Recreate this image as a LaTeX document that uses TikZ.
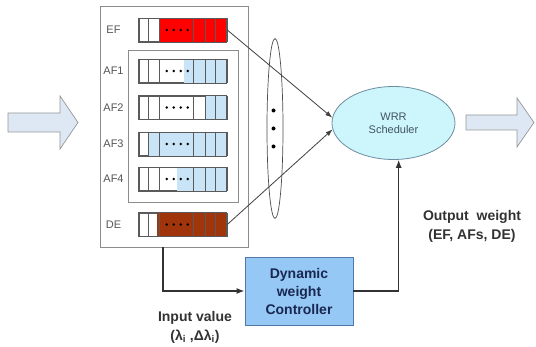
\documentclass[tikz,border=0pt]{standalone}
\usepackage{fontspec}
\setmainfont{Liberation Sans}
\usetikzlibrary{calc}
\usetikzlibrary{arrows.meta}
\usetikzlibrary{shapes.geometric}
\definecolor{framegray}{RGB}{140,140,140}
\definecolor{cellgray}{RGB}{90,90,90}
\definecolor{labgray}{RGB}{85,85,85}
\definecolor{notegray}{RGB}{50,50,50}
\definecolor{efred}{RGB}{255,0,0}
\definecolor{debrown}{RGB}{160,52,10}
\definecolor{afblue}{RGB}{200,228,246}
\definecolor{schedfill}{RGB}{205,246,252}
\definecolor{scheddraw}{RGB}{110,140,160}
\definecolor{ctrlfill}{RGB}{150,200,245}
\definecolor{ctrldraw}{RGB}{80,120,170}
\definecolor{ctrltext}{RGB}{25,40,80}
\definecolor{arrowfill}{RGB}{222,232,245}
\definecolor{arrowgray}{RGB}{150,150,150}
\tikzset{frame/.style={draw=framegray,fill=white,line width=0.7pt,inner sep=0pt},
         qbox/.style={draw=cellgray,minimum width=88pt,minimum height=23pt,inner sep=0pt,line width=0.6pt},
         cell/.style={draw=cellgray,line width=0.5pt},
         qlab/.style={text=labgray,font=\fontsize{11}{12}\selectfont},
         link/.style={line width=0.8pt,draw=black!75,-{Latex[length=7pt,width=5pt]}},
         flow/.style={line width=1.3pt,draw=notegray,-{Latex[length=8pt,width=6pt]}},
         bigarrow/.style={draw=arrowgray,fill=arrowfill,line width=0.7pt,line join=miter},
         sched/.style={ellipse,draw=scheddraw,fill=schedfill,line width=0.8pt,minimum width=123pt,
                       minimum height=73pt,align=center,text=scheddraw!60!black,
                       font=\fontsize{11}{13}\selectfont},
         ctrl/.style={draw=ctrldraw,fill=ctrlfill,line width=0.8pt,minimum width=108pt,minimum height=68pt,
                      align=center,text=ctrltext,font=\bfseries\fontsize{14}{18}\selectfont},
         note/.style={align=center,text=notegray,font=\bfseries\fontsize{14}{19}\selectfont}
         }
\newcommand{\qcells}[1]{%
  \foreach \xa/\xb in {0/10,10/21,21/55,55/67,67/77,77/88}
    \draw[cell] ($(#1.north west)+(\xa,0)$) rectangle ($(#1.south west)+(\xb,0)$);
  \foreach \d in {0,1,2,3}
    \fill ($(#1.west)+(28+7*\d,0)$) circle (1.4pt);
}
\begin{document}
\begin{tikzpicture}[x=1pt,y=-1pt]
  \useasboundingbox (0,0) rectangle (536,347);

  % in and out arrows
  \draw[bigarrow] (8,113) -- (60,113) -- (60,96) -- (78,122.5) -- (60,149) -- (60,132) -- (8,132) -- cycle;
  \draw[bigarrow] (466,115) -- (517,115) -- (517,98) -- (534,122.5) -- (517,147) -- (517,130) -- (466,130) -- cycle;

  % classifier boxes
  \node[frame, minimum width=148pt, minimum height=241pt] (classbox) at (174,126.5) {};
  \node[frame, minimum width=110pt, minimum height=152pt] (afbox) at (183,126) {};

  % queues
  \foreach \q/\y in {EF/30,AF1/71,AF2/107.5,AF3/144,AF4/179,DE/224.5}
  {
    \node[qbox] (q\q) at (183,\y) {};
    \node[qlab] (l\q) at (113.5,\y) {\q};
  }
  \fill[efred] ($(qEF.north west)+(21,0)$) rectangle (qEF.south east);
  \fill[afblue] ($(qAF1.north west)+(45,0)$) rectangle (qAF1.south east);
  \fill[afblue] ($(qAF2.north west)+(67,0)$) rectangle (qAF2.south east);
  \fill[afblue] ($(qAF3.north west)+(10,0)$) rectangle (qAF3.south east);
  \fill[afblue] ($(qAF4.north west)+(38,0)$) rectangle (qAF4.south east);
  \fill[debrown] ($(qDE.north west)+(18,0)$) rectangle (qDE.south east);
  \foreach \q in {EF,AF1,AF2,AF3,AF4,DE}
    \qcells{q\q};

  % scheduler
  \node[ellipse, draw=black!70, line width=0.7pt, minimum width=16pt, minimum height=180pt, inner sep=0pt] (grp) at (275,128.5) {};
  \foreach \y in {-18,0,18}
    \fill ($(grp.center)+(-1.5,\y)$) circle (2pt);
  \node[sched] (sched) at (393.5,123) {WRR\\Scheduler};
  \draw[link] (qEF.east) -- (sched.175);
  \draw[link] (qDE.east) -- (sched.186);

  % weight control loop
  \node[ctrl] (ctrl) at (299,291) {Dynamic\\weight\\Controller};
  \coordinate (tap) at (163,0);
  \draw[flow] (classbox.south -| tap) |- (ctrl.west);
  \draw[flow] (ctrl.east) -| (sched.-82);
  \node[note] (inval) at (195,327) {Input value\\(λ\textsubscript{i} ,Δλ\textsubscript{i})};
  \node[note] (outw) at (472,226) {Output\ \ weight\\(EF, AFs, DE)};
\end{tikzpicture}
\end{document}
